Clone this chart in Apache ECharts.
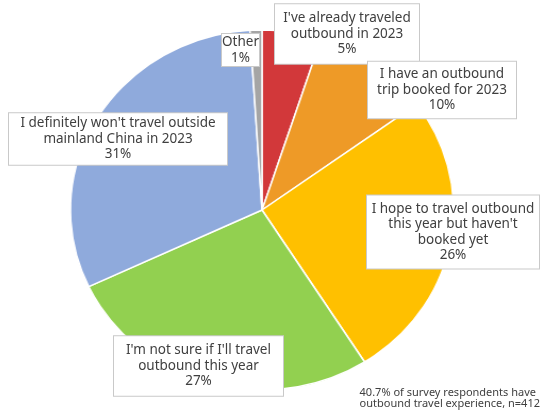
<!DOCTYPE html>
<html><head><meta charset="utf-8">
<script src="https://cdn.jsdelivr.net/npm/echarts@6/dist/echarts.min.js"></script>
<style>
html,body{margin:0;padding:0;background:#fff;width:540px;height:412px;overflow:hidden;}
#pie{position:absolute;left:0;top:0;width:540px;height:412px;transform:scaleX(1.064);transform-origin:262px 210px;}
#lab{position:absolute;left:0;top:0;width:540px;height:412px;}
</style></head>
<body>
<div id="pie"></div>
<div id="lab"></div>
<script>
const categories = [
  "I've already traveled\noutbound in 2023",
  "I have an outbound\ntrip booked for 2023",
  "I hope to travel outbound\nthis year but haven't\nbooked yet",
  "I'm not sure if I'll travel\noutbound this year",
  "I definitely won't travel outside\nmainland China in 2023",
  "Other"
];
const values = [5, 10, 26, 27, 31, 1];
const colors = ['#D2383A', '#EE9A27', '#FFC000', '#92D050', '#8FAADC', '#A5A5A5'];
const footnote = "40.7% of survey respondents have\noutbound travel experience, n=412";

// label box layout (style only), in data order
const boxCenters = [[347,34],[442,90],[453,232],[198.5,366],[118,139],[240.5,50]];
const boxWidths = [144,148,172,169,218,37];
const boxPadV = [6.5,5,5.5,6.5,2.5,0.5];

const center = [262, 210];
const radius = 180;

const pieChart = echarts.init(document.getElementById('pie'), null, {renderer:'canvas'});
pieChart.setOption({
  animation:false,
  series:[{
    type:'pie', center:center, radius:radius, startAngle:90, clockwise:true,
    label:{show:false}, labelLine:{show:false}, silent:true,
    itemStyle:{borderColor:'#fff', borderWidth:1.5},
    data: values.map((v,i)=>({value:v, name:categories[i], itemStyle:{color:colors[i]}}))
  }]
});

const labChart = echarts.init(document.getElementById('lab'), null, {renderer:'canvas'});
labChart.setOption({
  animation:false,
  title:{
    text: footnote, right:0, top:387, padding:0,
    textStyle:{fontFamily:'Noto Sans', fontSize:11, fontWeight:'normal', color:'#404040', lineHeight:11, align:'right'}
  },
  series:[{
    type:'pie', center:center, radius:radius, startAngle:90, clockwise:true, silent:true,
    itemStyle:{color:'rgba(0,0,0,0)'},
    labelLine:{show:false},
    label:{
      show:true, position:'outside',
      formatter: p => p.name + '\n' + p.percent.toFixed(0) + '%',
      fontFamily:'Noto Sans', fontSize:13.5, color:'#404040', lineHeight:15.5,
      backgroundColor:'#fff', borderColor:'#C9C9C9', borderWidth:1, align:'center'
    },
    labelLayout: function(params){
      const c = boxCenters[params.dataIndex];
      return {x:c[0], y:c[1], align:'center', verticalAlign:'middle'};
    },
    data: values.map((v,i)=>({value:v, name:categories[i],
      label:{width:boxWidths[i], padding:[boxPadV[i],0,boxPadV[i],0], overflow:'none'}}))
  }]
});
</script>
</body></html>
